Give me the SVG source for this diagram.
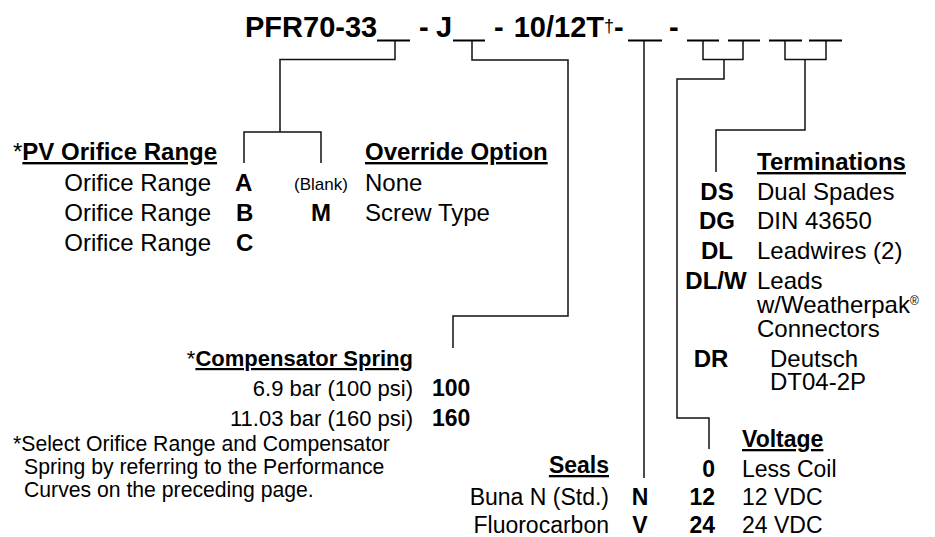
<svg xmlns="http://www.w3.org/2000/svg" width="935" height="537" viewBox="0 0 935 537">
<style>
text{font-family:"Liberation Sans",Arial,Helvetica,sans-serif;fill:#000;font-size:24px}
.b{font-weight:bold}
.h{font-weight:bold;text-decoration:underline}
.t{font-weight:bold;font-size:29px}
.e{text-anchor:end}
.m{text-anchor:middle}
.s{font-size:17px}
.f{font-size:21.2px}
.lo{font-size:23px}
.sp{font-size:22px}
.ln{fill:none;stroke:#111;stroke-width:1.5}
.us{stroke:#000;stroke-width:2}
</style>
<rect width="935" height="537" fill="#fff"/>
<g id="title">
<text class="t" x="245" y="37">PFR70-33</text>
<text class="t" x="419" y="37">-</text>
<text class="t" x="436" y="37">J</text>
<text class="t" x="494" y="37">-</text>
<text class="t" x="513.7" y="37">10/12T</text>
<text x="604" y="32" style="font-size:18px">†</text>
<text class="t" x="614" y="37">-</text>
<text class="t" x="669" y="37">-</text>
<line class="us" x1="377" y1="40.5" x2="410" y2="40.5"/>
<line class="us" x1="453" y1="40.5" x2="485" y2="40.5"/>
<line class="us" x1="628" y1="40.5" x2="662" y2="40.5"/>
<line class="us" x1="687" y1="40.5" x2="719" y2="40.5"/>
<line class="us" x1="728" y1="40.5" x2="760" y2="40.5"/>
<line class="us" x1="769" y1="40.5" x2="802" y2="40.5"/>
<line class="us" x1="809" y1="40.5" x2="842" y2="40.5"/>
</g>
<g id="connectors">
<path class="ln" d="M395 40.5V59.5H280V132M244 163V132H321V163"/>
<path class="ln" d="M472 40.5V60H568V316H453V348"/>
<path class="ln" d="M644 40.5V478"/>
<path class="ln" d="M703 40.5V59.5H743V40.5M724 59.5V79H677V418H709V449"/>
<path class="ln" d="M785 40.5V59.5H826V40.5M805 59.5V130H716V172"/>
</g>
<g id="orifice">
<text x="13" y="160">*<tspan class="h">PV Orifice Range</tspan></text>
<text class="e" x="211" y="191">Orifice Range</text>
<text class="e" x="211" y="221">Orifice Range</text>
<text class="e" x="211" y="251">Orifice Range</text>
<text class="b" x="235" y="191">A</text>
<text class="b" x="236" y="221">B</text>
<text class="b" x="236" y="251">C</text>
</g>
<g id="override">
<text class="m s" x="321" y="190">(Blank)</text>
<text class="b m" x="321" y="221">M</text>
<text class="h" x="365" y="160">Override Option</text>
<text x="365" y="191">None</text>
<text x="365" y="221">Screw Type</text>
</g>
<g id="terminations">
<text class="h" x="757" y="170">Terminations</text>
<text class="b m" x="717" y="200">DS</text>
<text class="b m" x="717" y="229">DG</text>
<text class="b m" x="717" y="259">DL</text>
<text class="b m" x="716" y="289">DL/W</text>
<text class="b m" x="711" y="367">DR</text>
<text x="757" y="200">Dual Spades</text>
<text x="757" y="229">DIN 43650</text>
<text x="757" y="259">Leadwires (2)</text>
<text x="757" y="289">Leads<tspan x="757" y="313">w/Weatherpak</tspan><tspan style="font-size:12px" dy="-8">®</tspan><tspan x="757" y="337">Connectors</tspan></text>
<text x="770" y="367">Deutsch<tspan x="770" y="390">DT04-2P</tspan></text>
</g>
<g id="spring">
<text class="e sp" x="413" y="366">*<tspan class="h">Compensator Spring</tspan></text>
<text class="e sp" x="413" y="396">6.9 bar (100 psi)</text>
<text class="e sp" x="413" y="426">11.03 bar (160 psi)</text>
<text class="b lo" x="432" y="396">100</text>
<text class="b lo" x="432" y="426">160</text>
</g>
<g id="seals">
<text class="h e lo" x="609" y="473">Seals</text>
<text class="e lo" x="609" y="505">Buna N (Std.)</text>
<text class="e lo" x="609" y="533">Fluorocarbon</text>
<text class="b m lo" x="640" y="505">N</text>
<text class="b m lo" x="640" y="533">V</text>
</g>
<g id="voltage">
<text class="h lo" x="742" y="447">Voltage</text>
<text class="b e lo" x="715" y="477">0</text>
<text class="b e lo" x="715" y="505">12</text>
<text class="b e lo" x="715" y="533">24</text>
<text class="lo" x="742" y="477">Less Coil</text>
<text class="lo" x="742" y="505">12 VDC</text>
<text class="lo" x="742" y="533">24 VDC</text>
</g>
<g id="footnote">
<text class="f" x="13" y="451">*Select Orifice Range and Compensator<tspan x="24" y="474">Spring by referring to the Performance</tspan><tspan x="24" y="497">Curves on the preceding page.</tspan></text>
</g>
</svg>
